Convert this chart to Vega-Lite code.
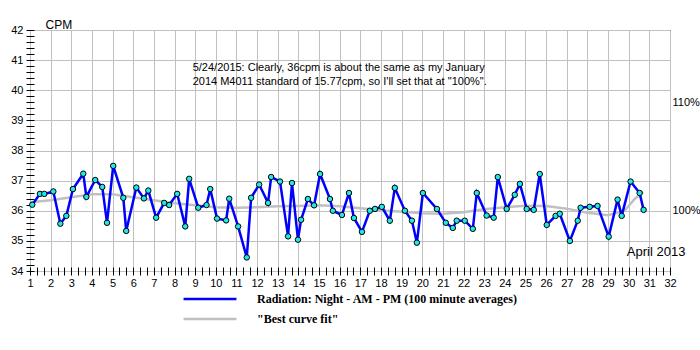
{
  "$schema": "https://vega.github.io/schema/vega-lite/v6.json",
  "width": 640,
  "height": 241,
  "autosize": {"type": "none"},
  "padding": {"left": 30, "top": 30, "right": 30, "bottom": 79},
  "background": "white",
  "config": {
    "view": {"stroke": "black", "strokeWidth": 1},
    "axis": {"labelFont": "Liberation Sans", "labelFontSize": 11, "labelColor": "black", "tickColor": "black", "gridColor": "#c0c0c0", "titleFont": "Liberation Sans", "titleFontWeight": "normal", "titleColor": "black"}
  },
  "datasets": {
    "radiation": [
      {"day": 1.11, "cpm": 36.2}, {"day": 1.48, "cpm": 36.56}, {"day": 1.69, "cpm": 36.56},
      {"day": 2.13, "cpm": 36.64}, {"day": 2.47, "cpm": 35.57}, {"day": 2.76, "cpm": 35.83},
      {"day": 3.08, "cpm": 36.72}, {"day": 3.58, "cpm": 37.23}, {"day": 3.73, "cpm": 36.46},
      {"day": 4.16, "cpm": 37.02}, {"day": 4.5, "cpm": 36.79}, {"day": 4.73, "cpm": 35.6},
      {"day": 5.03, "cpm": 37.49}, {"day": 5.52, "cpm": 36.43}, {"day": 5.66, "cpm": 35.33},
      {"day": 6.15, "cpm": 36.77}, {"day": 6.52, "cpm": 36.41}, {"day": 6.73, "cpm": 36.67},
      {"day": 7.11, "cpm": 35.77}, {"day": 7.5, "cpm": 36.26}, {"day": 7.74, "cpm": 36.19},
      {"day": 8.13, "cpm": 36.56}, {"day": 8.52, "cpm": 35.48}, {"day": 8.71, "cpm": 37.06},
      {"day": 9.15, "cpm": 36.1}, {"day": 9.55, "cpm": 36.19}, {"day": 9.73, "cpm": 36.72},
      {"day": 10.06, "cpm": 35.74}, {"day": 10.5, "cpm": 35.68}, {"day": 10.65, "cpm": 36.4},
      {"day": 11.08, "cpm": 35.48}, {"day": 11.5, "cpm": 34.45}, {"day": 11.71, "cpm": 36.43},
      {"day": 12.1, "cpm": 36.87}, {"day": 12.53, "cpm": 36.26}, {"day": 12.68, "cpm": 37.12},
      {"day": 13.11, "cpm": 36.97}, {"day": 13.5, "cpm": 35.15}, {"day": 13.69, "cpm": 36.92},
      {"day": 13.98, "cpm": 35.04}, {"day": 14.13, "cpm": 35.7}, {"day": 14.46, "cpm": 36.39},
      {"day": 14.76, "cpm": 36.18}, {"day": 15.05, "cpm": 37.22}, {"day": 15.53, "cpm": 36.39},
      {"day": 15.67, "cpm": 36.0}, {"day": 16.11, "cpm": 35.86}, {"day": 16.45, "cpm": 36.59},
      {"day": 16.69, "cpm": 35.76}, {"day": 17.08, "cpm": 35.3}, {"day": 17.46, "cpm": 36.0},
      {"day": 17.71, "cpm": 36.06}, {"day": 18.04, "cpm": 36.13}, {"day": 18.43, "cpm": 35.67},
      {"day": 18.67, "cpm": 36.76}, {"day": 19.16, "cpm": 36.0}, {"day": 19.5, "cpm": 35.67},
      {"day": 19.74, "cpm": 34.94}, {"day": 20.03, "cpm": 36.59}, {"day": 20.71, "cpm": 36.06},
      {"day": 21.14, "cpm": 35.6}, {"day": 21.48, "cpm": 35.43}, {"day": 21.67, "cpm": 35.67},
      {"day": 22.06, "cpm": 35.67}, {"day": 22.45, "cpm": 35.4}, {"day": 22.64, "cpm": 36.59},
      {"day": 23.12, "cpm": 35.84}, {"day": 23.46, "cpm": 35.77}, {"day": 23.66, "cpm": 37.12},
      {"day": 24.09, "cpm": 36.06}, {"day": 24.48, "cpm": 36.53}, {"day": 24.73, "cpm": 36.89},
      {"day": 25.06, "cpm": 36.06}, {"day": 25.4, "cpm": 36.03}, {"day": 25.69, "cpm": 37.22},
      {"day": 26.03, "cpm": 35.53}, {"day": 26.46, "cpm": 35.83}, {"day": 26.66, "cpm": 35.9},
      {"day": 27.15, "cpm": 35.0}, {"day": 27.53, "cpm": 35.67}, {"day": 27.67, "cpm": 36.1},
      {"day": 28.11, "cpm": 36.13}, {"day": 28.49, "cpm": 36.16}, {"day": 29.03, "cpm": 35.14},
      {"day": 29.46, "cpm": 36.37}, {"day": 29.66, "cpm": 35.83}, {"day": 30.09, "cpm": 36.97},
      {"day": 30.53, "cpm": 36.59}, {"day": 30.72, "cpm": 36.03}
    ],
    "curve": [
      {"day": 1.0, "cpm": 36.28}, {"day": 2, "cpm": 36.35}, {"day": 3, "cpm": 36.45},
      {"day": 4, "cpm": 36.55}, {"day": 5, "cpm": 36.55}, {"day": 6, "cpm": 36.45},
      {"day": 7, "cpm": 36.35}, {"day": 8, "cpm": 36.25}, {"day": 9, "cpm": 36.18},
      {"day": 10, "cpm": 36.12}, {"day": 11, "cpm": 36.1}, {"day": 12, "cpm": 36.12},
      {"day": 13, "cpm": 36.15}, {"day": 14, "cpm": 36.16}, {"day": 15, "cpm": 36.18},
      {"day": 16, "cpm": 36.15}, {"day": 17, "cpm": 36.08}, {"day": 18, "cpm": 36.02},
      {"day": 19, "cpm": 35.97}, {"day": 20, "cpm": 35.92}, {"day": 21, "cpm": 35.9},
      {"day": 22, "cpm": 35.95}, {"day": 23, "cpm": 36.05}, {"day": 24, "cpm": 36.12},
      {"day": 25, "cpm": 36.17}, {"day": 26, "cpm": 36.16}, {"day": 27, "cpm": 36.07},
      {"day": 28, "cpm": 35.93}, {"day": 29, "cpm": 35.85}, {"day": 29.8, "cpm": 36.0},
      {"day": 30.3, "cpm": 36.4}, {"day": 30.7, "cpm": 36.62}
    ],
    "notes": [
      {"day": 8.88, "cpm": 40.74, "note": "5/24/2015: Clearly, 36cpm is about the same as my January\n2014 M4011 standard of 15.77cpm, so I'll set that at \"100%\"."}
    ],
    "period": [
      {"day": 29.91, "cpm": 34.63, "label": "April 2013"}
    ]
  },
  "layer": [
    {
      "data": {"name": "curve"},
      "mark": {"type": "line", "strokeWidth": 2.5},
      "encoding": {
        "x": {
          "field": "day", "type": "quantitative",
          "scale": {"domain": [1, 32], "nice": false, "zero": false},
          "axis": {
            "title": null, "domain": false, "offset": -4, "tickSize": 8, "labelPadding": 2, "tickCount": 400,
            "labelOverlap": false, "labelBound": false, "labelFlush": false,
            "values": [1,1.3333,1.6667,2,2.3333,2.6667,3,3.3333,3.6667,4,4.3333,4.6667,5,5.3333,5.6667,6,6.3333,6.6667,7,7.3333,7.6667,8,8.3333,8.6667,9,9.3333,9.6667,10,10.3333,10.6667,11,11.3333,11.6667,12,12.3333,12.6667,13,13.3333,13.6667,14,14.3333,14.6667,15,15.3333,15.6667,16,16.3333,16.6667,17,17.3333,17.6667,18,18.3333,18.6667,19,19.3333,19.6667,20,20.3333,20.6667,21,21.3333,21.6667,22,22.3333,22.6667,23,23.3333,23.6667,24,24.3333,24.6667,25,25.3333,25.6667,26,26.3333,26.6667,27,27.3333,27.6667,28,28.3333,28.6667,29,29.3333,29.6667,30,30.3333,30.6667,31,31.3333,31.6667,32],
            "labelExpr": "abs(datum.value - round(datum.value)) < 0.01 ? format(datum.value, 'd') : ''",
            "gridOpacity": {"condition": {"test": "abs(datum.value - round(datum.value)) < 0.01", "value": 1}, "value": 0}
          }
        },
        "y": {
          "field": "cpm", "type": "quantitative",
          "scale": {"domain": [34, 42], "nice": false, "zero": false},
          "axis": {
            "title": "CPM", "titleAngle": 0, "titleAlign": "left", "titleBaseline": "alphabetic",
            "titleX": 11, "titleY": -2, "titleFontSize": 12,
            "domain": false, "offset": -4, "tickSize": 8, "labelPadding": 3, "tickCount": 400,
            "labelOverlap": false, "labelBound": false, "labelFlush": false,
            "values": [34,34.2,34.4,34.6,34.8,35,35.2,35.4,35.6,35.8,36,36.2,36.4,36.6,36.8,37,37.2,37.4,37.6,37.8,38,38.2,38.4,38.6,38.8,39,39.2,39.4,39.6,39.8,40,40.2,40.4,40.6,40.8,41,41.2,41.4,41.6,41.8,42],
            "labelExpr": "abs(datum.value - round(datum.value)) < 0.01 ? format(datum.value, 'd') : ''",
            "gridOpacity": {"condition": {"test": "abs(datum.value - round(datum.value)) < 0.01", "value": 1}, "value": 0}
          }
        },
        "stroke": {
          "datum": "\"Best curve fit\"",
          "scale": {"range": ["#c0c0c0"]},
          "legend": {"title": null, "orient": "none", "legendX": 152, "legendY": 261, "symbolType": "stroke", "symbolSize": 2800, "symbolStrokeWidth": 2.5, "labelFont": "Liberation Serif", "labelFontWeight": "bold", "labelFontSize": 12, "labelColor": "black", "labelOffset": 19, "labelLimit": 0}
        }
      }
    },
    {
      "data": {"name": "radiation"},
      "mark": {"type": "line", "strokeWidth": 2.5},
      "encoding": {
        "x": {"field": "day", "type": "quantitative"},
        "y": {
          "field": "cpm", "type": "quantitative",
          "axis": {"orient": "right", "title": null, "values": [36, 39.6], "labelExpr": "datum.value < 37 ? '100%' : '110%'", "ticks": false, "domain": false, "grid": false, "labelPadding": 2}
        },
        "color": {
          "datum": "Radiation: Night - AM - PM (100 minute averages)",
          "scale": {"range": ["#0000ff"]},
          "legend": {"title": null, "orient": "none", "legendX": 152, "legendY": 241, "symbolType": "stroke", "symbolSize": 2800, "symbolStrokeWidth": 2.5, "labelFont": "Liberation Serif", "labelFontWeight": "bold", "labelFontSize": 12, "labelColor": "black", "labelOffset": 19, "labelLimit": 0}
        }
      }
    },
    {
      "data": {"name": "radiation"},
      "mark": {"type": "point", "filled": true, "fill": "#1ee8e8", "stroke": "black", "strokeWidth": 1, "size": 30, "opacity": 1},
      "encoding": {
        "x": {"field": "day", "type": "quantitative"},
        "y": {"field": "cpm", "type": "quantitative", "axis": null}
      }
    },
    {
      "data": {"name": "notes"},
      "mark": {"type": "text", "align": "left", "baseline": "middle", "font": "Liberation Sans", "fontSize": 11, "lineHeight": 13.7, "color": "black", "lineBreak": "\n"},
      "encoding": {
        "x": {"field": "day", "type": "quantitative"},
        "y": {"field": "cpm", "type": "quantitative", "axis": null},
        "text": {"field": "note"}
      }
    },
    {
      "data": {"name": "period"},
      "mark": {"type": "text", "align": "left", "baseline": "middle", "font": "Liberation Sans", "fontSize": 13, "color": "black"},
      "encoding": {
        "x": {"field": "day", "type": "quantitative"},
        "y": {"field": "cpm", "type": "quantitative", "axis": null},
        "text": {"field": "label"}
      }
    }
  ],
  "resolve": {"axis": {"y": "independent"}}
}
